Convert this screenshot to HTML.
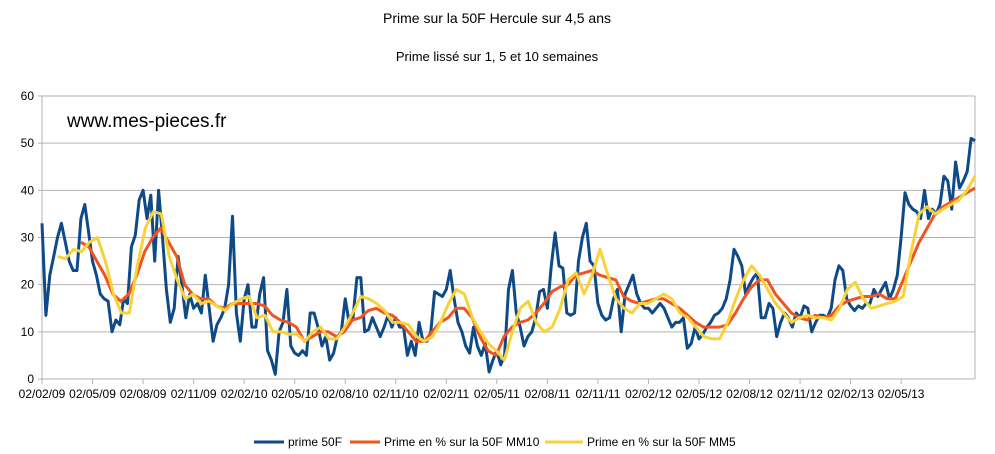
<!DOCTYPE html>
<html><head><meta charset="utf-8">
<style>
body{margin:0;background:#fff;}
svg{display:block;font-family:"Liberation Sans",sans-serif;}
</style></head>
<body>
<svg id="chart" width="995" height="454" viewBox="0 0 995 454">
<text x="497" y="23" text-anchor="middle" font-size="14">Prime sur la 50F Hercule sur 4,5 ans</text>
<text x="497" y="61" text-anchor="middle" font-size="13">Prime lissé sur 1, 5 et 10 semaines</text>
<g id="grid"></g>
<g id="yticks"></g>
<g id="xticks"></g>
<text x="67" y="127" font-size="19">www.mes-pieces.fr</text>
<g id="series"></g>
<g>
<line x1="254" y1="442" x2="284" y2="442" stroke="#0e4a87" stroke-width="3"/>
<text x="288" y="446" font-size="12">prime 50F</text>
<line x1="350" y1="442" x2="380" y2="442" stroke="#f0541f" stroke-width="3"/>
<text x="384" y="446" font-size="12">Prime en % sur la 50F MM10</text>
<line x1="545" y1="442" x2="583" y2="442" stroke="#f8d23a" stroke-width="3"/>
<text x="587" y="446" font-size="12">Prime en % sur la 50F MM5</text>
</g>
</svg>
<script>
const yTicks=[0,10,20,30,40,50,60];
const xLabels=["02/02/09","02/05/09","02/08/09","02/11/09","02/02/10","02/05/10","02/08/10","02/11/10","02/02/11","02/05/11","02/08/11","02/11/11","02/02/12","02/05/12","02/08/12","02/11/12","02/02/13","02/05/13"];
const prime=[33,13.5,22,26,30,33,29,25,23,23,34,37,31,25,22,18,17,16.5,10,12.5,11.5,17,16,28,30.5,38,40,34,39,25,40,30,19,12,15,26,20,13,18,15,16,14,22,15,8,11.5,13,15,20,34.5,14,8,17,20,11,11,18,21.5,6,4,1,10,12,19,7,5.5,5,6,5,14,14,11,7,9,4,5.5,9,10,17,12,13,21.5,21.5,10,10.5,13,11,9,11,13.5,11,13,11,11,5,8,5,12,8,8,10,18.5,18,17.5,19,23,17,12,10,7,5.5,11,7,5,7.5,1.5,4,6,3,5,19,23,14,11,7,9,10,13,18.5,19,15,24,31,24,23.5,14,13.5,14,25,30,33,25,24,16,13.5,12.5,13,17,19,10,18,20,22,18,16,15,15,14,15,16,15,13,11,12,12,13,6.5,7.5,11,8.5,9.5,11,12,13.5,14,15,17,21,27.5,26,24,18,20,21.5,22.5,13,13,16,15,9,12,14,13,11,14,13,15.5,15,10,12,13.5,13.5,13,15,21,24,23,17,15.5,14.5,15.5,15,16,16,19,17.5,19,20.5,17,19,22,30,39.5,37,36,35.5,34,40,34,36,35,37,43,42,36,46,40.5,42,44,51,50.5];
const mm10Start=10;
const mm10=[29,28,25,22,18,16.5,18,22,27,30,32,29,26,20,18,17,17,15.5,15,16,16,16,16,15.5,13.5,12.5,12,11,8,9,10,10,9,10,12.5,13,14.5,15,14,13.5,12,10,8,8,10,12,13,15,15,13,9,6,5,9,11,12,12.5,14,16,18.5,19.5,20,22,22.5,23,22,21.5,21,17.5,16.5,16,16.5,17,17,16,15,13.5,12,11,11,11,11.5,14,17,19.5,21,21,18,16,14,13,12.5,13.5,13,13.5,15.5,16.5,17,17.5,17.5,18,17,17,21,25,29,32,35,36.5,37.5,38.5,39.5,40.5];
const mm5Start=4;
const mm5=[26,25.5,27.5,27,29,30,25,18,14,14,24,32,35.5,35,26,21,17,18,16,16.5,15.5,14.5,16,17,17.5,13,13.5,10,10,9.5,9.5,8,10,11,8.5,8.5,11,14,17.5,17,16,14.5,12,12,11.5,9,8,9,12,16,19,18,13,10,7.5,6,4,10,15,16.5,12,10,11,15,21,22.5,18,22,27.5,22,17,15,14,16,16,17,18,17,14,13,11,9,8.5,8.5,12,17,21,24,22,19,16,14,12,13,13.5,13,13,12.5,15,19,20.5,17,15,15.5,16,16.5,17.5,27,35,36.5,35,36,37,38,40,43];

const NS='http://www.w3.org/2000/svg';
const X0=42,X1=975,Y0=379,Y1=96;
const N=prime.length;
const xs=w=>X0+(X1-X0)*w/(N-1);
const ys=v=>Y0-(Y0-Y1)*v/60;
function mk(tag,attrs,parent){const e=document.createElementNS(NS,tag);for(const k in attrs)e.setAttribute(k,attrs[k]);parent.appendChild(e);return e;}
const grid=document.getElementById('grid'),yg=document.getElementById('yticks'),xg=document.getElementById('xticks'),sg=document.getElementById('series');
yTicks.forEach(t=>{
  const l=mk('line',{x1:X0-4,x2:X1,y1:ys(t),y2:ys(t),stroke:'#b3b3b3','stroke-width':1},grid);
  
  
  const tx=mk('text',{x:34,y:ys(t)+4,'text-anchor':'end','font-size':12},yg);
  tx.textContent=t;
  
  
});
mk('line',{x1:X0,x2:X0,y1:Y1,y2:Y0,stroke:'#b3b3b3'},grid);
mk('line',{x1:X1,x2:X1,y1:Y1,y2:Y0,stroke:'#b3b3b3'},grid);
xLabels.forEach((s,k)=>{
  const x=xs(k*13);
  mk('line',{x1:x,x2:x,y1:Y0,y2:Y0+5,stroke:'#b3b3b3'},xg);
  const tx=mk('text',{x:x,y:398,'text-anchor':'middle','font-size':12},xg);
  tx.textContent=s;
  
  
});
function line(vals,start,color,name){
  const step=(N-1-start)/(vals.length-1);
  const d=vals.map((v,i)=>(i?'L':'M')+xs(start+i*step).toFixed(1)+','+ys(v).toFixed(1)).join('');
  const p=mk('path',{d:d,fill:'none',stroke:color,'stroke-width':3,'stroke-linejoin':'round'},sg);
  
  
}
line(prime,0,'#0e4a87','series-prime-50f');
line(mm10,mm10Start,'#f0541f','series-mm10');
line(mm5,mm5Start,'#f8d23a','series-mm5');
</script>
</body></html>
